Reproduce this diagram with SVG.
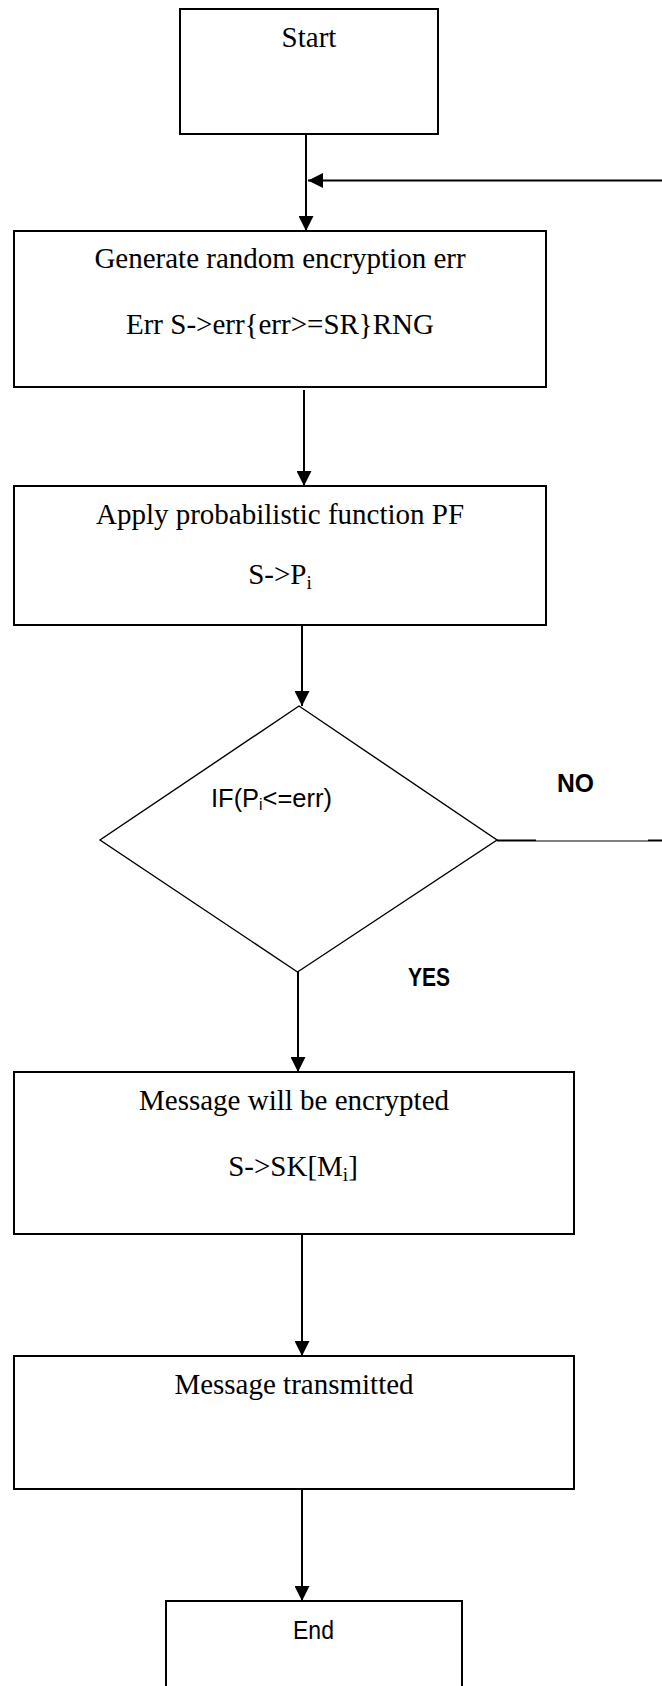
<svg xmlns="http://www.w3.org/2000/svg" width="662" height="1686" viewBox="0 0 662 1686">
<style>
.box{fill:#fff;stroke:#000;stroke-width:2}
.dia{fill:#fff;stroke:#000;stroke-width:1.4}
.con{fill:none;stroke:#000;stroke-width:2}
.t{font-family:"Liberation Serif","Times New Roman",serif;font-size:29px;fill:#000;text-anchor:middle}
.s{font-family:"Liberation Sans",Arial,sans-serif;font-size:26px;fill:#000}
.b{font-family:"Liberation Sans",Arial,sans-serif;font-size:25px;font-weight:bold;fill:#000}
</style>
<defs>
<marker id="ah" markerUnits="userSpaceOnUse" markerWidth="16" markerHeight="15" refX="15" refY="7.5" orient="auto">
<path d="M0,0 L15,7.5 L0,15 Z" fill="#000"/>
</marker>
</defs>
<rect width="662" height="1686" fill="#fff"/>
<g id="connectors">
<line class="con" x1="306" y1="134" x2="306" y2="231" marker-end="url(#ah)"/>
<line class="con" x1="662" y1="180.5" x2="308" y2="180.5" marker-end="url(#ah)"/>
<line class="con" x1="304" y1="390" x2="304" y2="486" marker-end="url(#ah)"/>
<line class="con" x1="302" y1="625" x2="302" y2="706" marker-end="url(#ah)"/>
<line class="con" x1="298" y1="966" x2="298" y2="1072" marker-end="url(#ah)"/>
<line class="con" x1="302" y1="1229" x2="302" y2="1356" marker-end="url(#ah)"/>
<line class="con" x1="302" y1="1489" x2="302" y2="1601" marker-end="url(#ah)"/>
<line class="con" x1="497" y1="840.5" x2="536" y2="840.5"/>
<line x1="536" y1="841" x2="648" y2="841" stroke="#000" stroke-width="1"/>
<line class="con" x1="648" y1="840.5" x2="662" y2="840.5"/>
</g>
<g id="start">
<rect class="box" x="180" y="9" width="258" height="125"/>
<text class="t" x="309" y="47">Start</text>
</g>
<g id="generate">
<rect class="box" x="14" y="231" width="532" height="156"/>
<text class="t" x="280" y="268">Generate random encryption err</text>
<text class="t" x="280" y="334">Err S-&gt;err{err&gt;=SR}RNG</text>
</g>
<g id="apply">
<rect class="box" x="14" y="486" width="532" height="139"/>
<text class="t" x="280" y="524">Apply probabilistic function PF</text>
<text class="t" x="280" y="584">S-&gt;P<tspan font-size="19" dy="5">i</tspan></text>
</g>
<g id="decision">
<polygon class="dia" points="299,706 497,840 297.5,972 100,840"/>
<text class="s" x="211" y="807" textLength="121" lengthAdjust="spacingAndGlyphs">IF(P<tspan font-size="16" dy="3">i</tspan><tspan dy="-3">&lt;=err)</tspan></text>
</g>
<g id="label-no">
<text class="b" x="557" y="792" textLength="37" lengthAdjust="spacingAndGlyphs">NO</text>
</g>
<g id="label-yes">
<text class="b" x="408" y="986" textLength="42" lengthAdjust="spacingAndGlyphs">YES</text>
</g>
<g id="encrypt">
<rect class="box" x="14" y="1072" width="560" height="162"/>
<text class="t" x="294" y="1110">Message will be encrypted</text>
<text class="t" x="293" y="1176">S-&gt;SK[M<tspan font-size="19" dy="5">i</tspan><tspan dy="-5">]</tspan></text>
</g>
<g id="transmit">
<rect class="box" x="14" y="1356" width="560" height="133"/>
<text class="t" x="294" y="1394">Message transmitted</text>
</g>
<g id="end">
<rect class="box" x="166" y="1601" width="296" height="120"/>
<text class="s" x="293" y="1639" font-size="25" textLength="41" lengthAdjust="spacingAndGlyphs">End</text>
</g>
</svg>
